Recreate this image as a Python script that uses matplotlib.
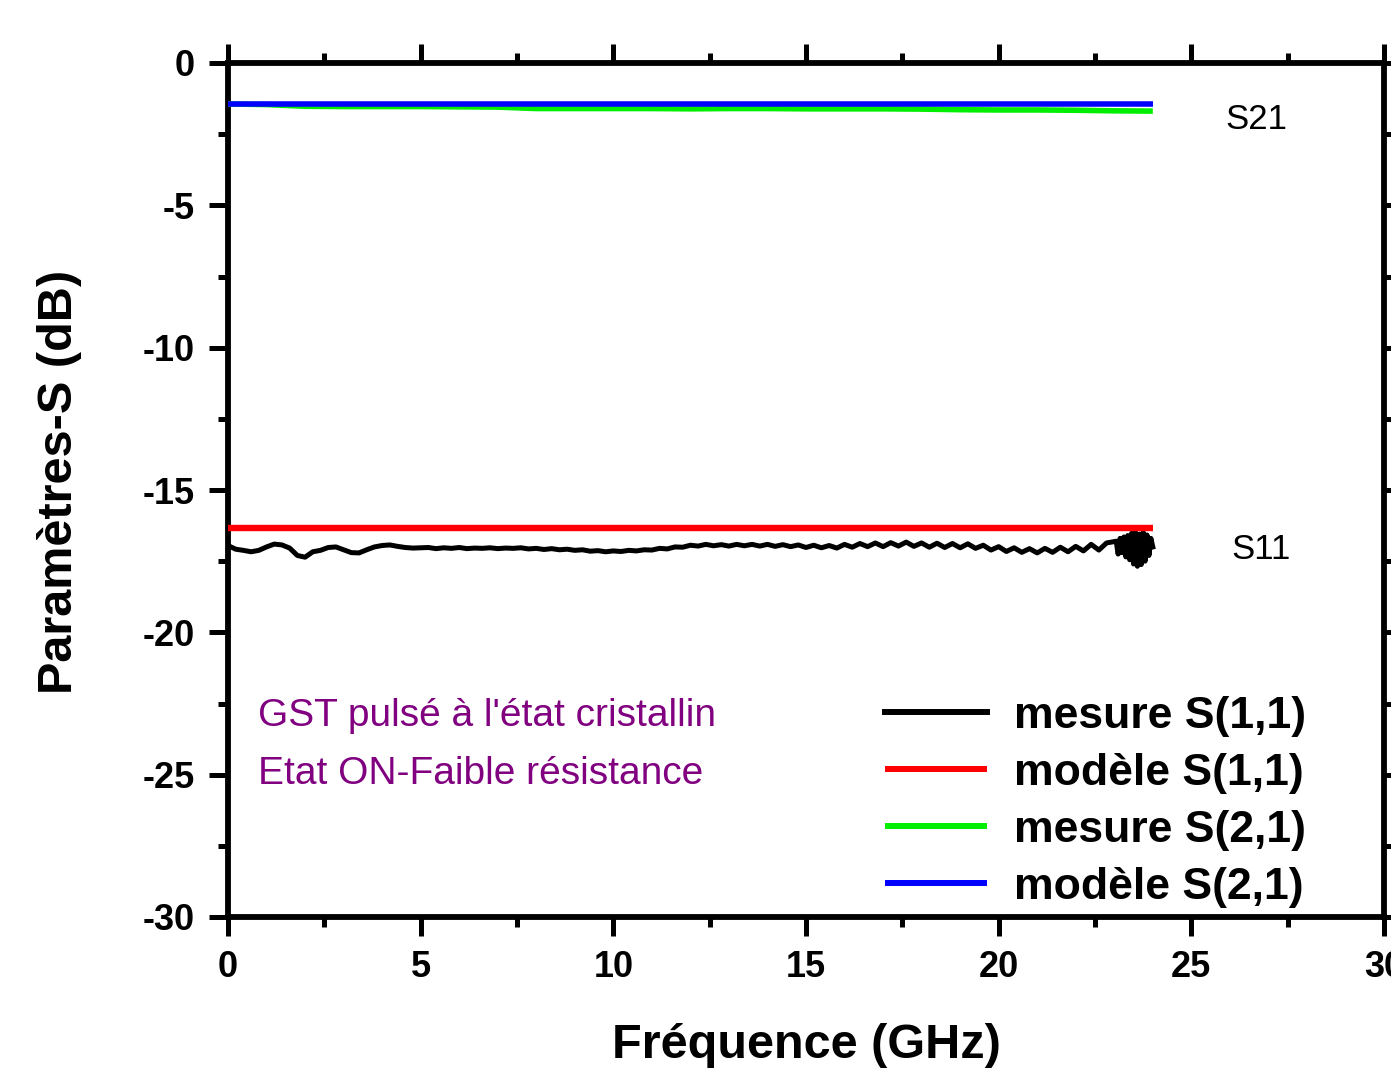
import numpy as np
import matplotlib
matplotlib.use("Agg")
import matplotlib.pyplot as plt
from matplotlib.ticker import MultipleLocator

plt.rcParams['font.family'] = ['Liberation Sans', 'DejaVu Sans']
plt.rcParams['axes.unicode_minus'] = False

# ---------------- data ----------------
# measured S11 (dB), 0 .. 23 GHz every 0.2 GHz
s11_mes_a = [
    -16.95, -17.08, -17.12, -17.17, -17.12, -17.00, -16.90, -16.93, -17.04, -17.30,
    -17.36, -17.17, -17.12, -17.02, -17.00, -17.10, -17.20, -17.21, -17.10, -17.00,
    -16.95, -16.93, -16.98, -17.02, -17.04, -17.03, -17.02, -17.06, -17.03, -17.05,
    -17.02, -17.06, -17.04, -17.05, -17.03, -17.06, -17.04, -17.05, -17.03, -17.07,
    -17.05, -17.09, -17.06, -17.10, -17.08, -17.12, -17.10, -17.15, -17.13, -17.17,
    -17.14, -17.16, -17.12, -17.14, -17.10, -17.11, -17.05, -17.07, -17.00, -17.01,
    -16.94, -16.97, -16.91, -16.96, -16.92, -16.97, -16.91, -16.96, -16.91, -16.97,
    -16.91, -16.98, -16.92, -16.99, -16.93, -17.02, -16.94, -17.03, -16.95, -17.04,
    -16.91, -17.01, -16.88, -16.99, -16.86, -16.99, -16.85, -16.97, -16.83, -16.98,
    -16.86, -17.01, -16.87, -17.02, -16.88, -17.03, -16.89, -17.05, -16.94, -17.11,
    -16.99, -17.16, -17.03, -17.19, -17.06, -17.21, -17.05, -17.19, -17.01, -17.17,
    -16.98, -17.14, -16.91, -17.11, -16.86,
]
# measured S11 (dB), 23.05 .. 24.0 GHz every 0.05 GHz (noisy end of band)
s11_mes_b = [
    -16.80, -17.25, -16.70, -17.20, -16.65, -17.35, -16.60, -17.45, -16.52, -17.60,
    -16.48, -17.68, -16.55, -17.62, -16.48, -17.50, -16.58, -17.30, -16.70, -17.00,
]
s11_mes_freq = np.concatenate([np.arange(len(s11_mes_a)) * 0.2,
                               23.0 + (np.arange(len(s11_mes_b)) + 1) * 0.05])
s11_mes = np.array(s11_mes_a + s11_mes_b)

# model S11 (dB)
s11_mod_freq = [0.0, 24.0]
s11_mod = [-16.32, -16.32]

# measured S21 (dB), every 1 GHz
s21_mes_freq = np.arange(25) * 1.0
s21_mes = [-1.44, -1.46, -1.52, -1.53, -1.53, -1.53, -1.54, -1.55, -1.60, -1.60,
           -1.60, -1.60, -1.61, -1.60, -1.60, -1.61, -1.61, -1.61, -1.62, -1.64,
           -1.65, -1.65, -1.66, -1.68, -1.69]

# model S21 (dB)
s21_mod_freq = [0.0, 24.0]
s21_mod = [-1.44, -1.44]

legend_labels = ['mesure S(1,1)', 'modèle S(1,1)', 'mesure S(2,1)', 'modèle S(2,1)']
annot_lines = ["GST pulsé à l'état cristallin", "Etat ON-Faible résistance"]

# ---------------- figure ----------------
fig = plt.figure(figsize=(13.91, 10.71), dpi=100)
ax = fig.add_axes([228/1391, 1 - 917/1071, (1384 - 228)/1391, (917 - 63)/1071])

l1, = ax.plot(s11_mes_freq, s11_mes, color='black', lw=3.6, zorder=3)
l2, = ax.plot(s11_mod_freq, s11_mod, color='#ff0000', lw=4.6, zorder=4, solid_capstyle='butt')
l3, = ax.plot(s21_mes_freq, s21_mes, color='#00ee00', lw=4.0, zorder=3, solid_capstyle='butt')
l4, = ax.plot(s21_mod_freq, s21_mod, color='#0000ff', lw=4.0, zorder=4, solid_capstyle='butt')

ax.set_xlim(0, 30)
ax.set_ylim(-30, 0)
ax.xaxis.set_major_locator(MultipleLocator(5))
ax.xaxis.set_minor_locator(MultipleLocator(2.5))
ax.yaxis.set_major_locator(MultipleLocator(5))
ax.yaxis.set_minor_locator(MultipleLocator(2.5))

for sp in ax.spines.values():
    sp.set_linewidth(4.2)

ax.tick_params(which='both', direction='out', top=True, right=True, width=3.6)
ax.tick_params(which='major', length=14, pad=10, labelsize=26)
ax.tick_params(which='minor', length=7)
for lab in ax.get_xticklabels() + ax.get_yticklabels():
    lab.set_fontweight('bold')

ax.set_xlabel('Fréquence (GHz)', fontsize=35, fontweight='bold')
ax.set_ylabel('Paramètres-S (dB)', fontsize=35, fontweight='bold')
ax.xaxis.set_label_coords(0.5, -0.124)
ax.yaxis.set_label_coords(-0.126, 0.51)

ax.text(26.7, -2.0, 'S21', fontsize=25, ha='center', va='center')
ax.text(26.8, -17.1, 'S11', fontsize=25, ha='center', va='center')

ax.text(0.026, 0.235, annot_lines[0], transform=ax.transAxes, fontsize=28,
        color='#800080', ha='left', va='center')
ax.text(0.026, 0.168, annot_lines[1], transform=ax.transAxes, fontsize=28,
        color='#800080', ha='left', va='center')

leg = ax.legend([l1, l2, l3, l4], legend_labels, loc='upper left',
                bbox_to_anchor=(0.549, 0.285), frameon=False, borderpad=0,
                handlelength=2.3, handletextpad=0.6, labelspacing=0.36,
                prop={'size': 32, 'weight': 'bold'})
for h in leg.get_lines():
    h.set_linewidth(4.3)

fig.savefig('out.png', dpi=100)
